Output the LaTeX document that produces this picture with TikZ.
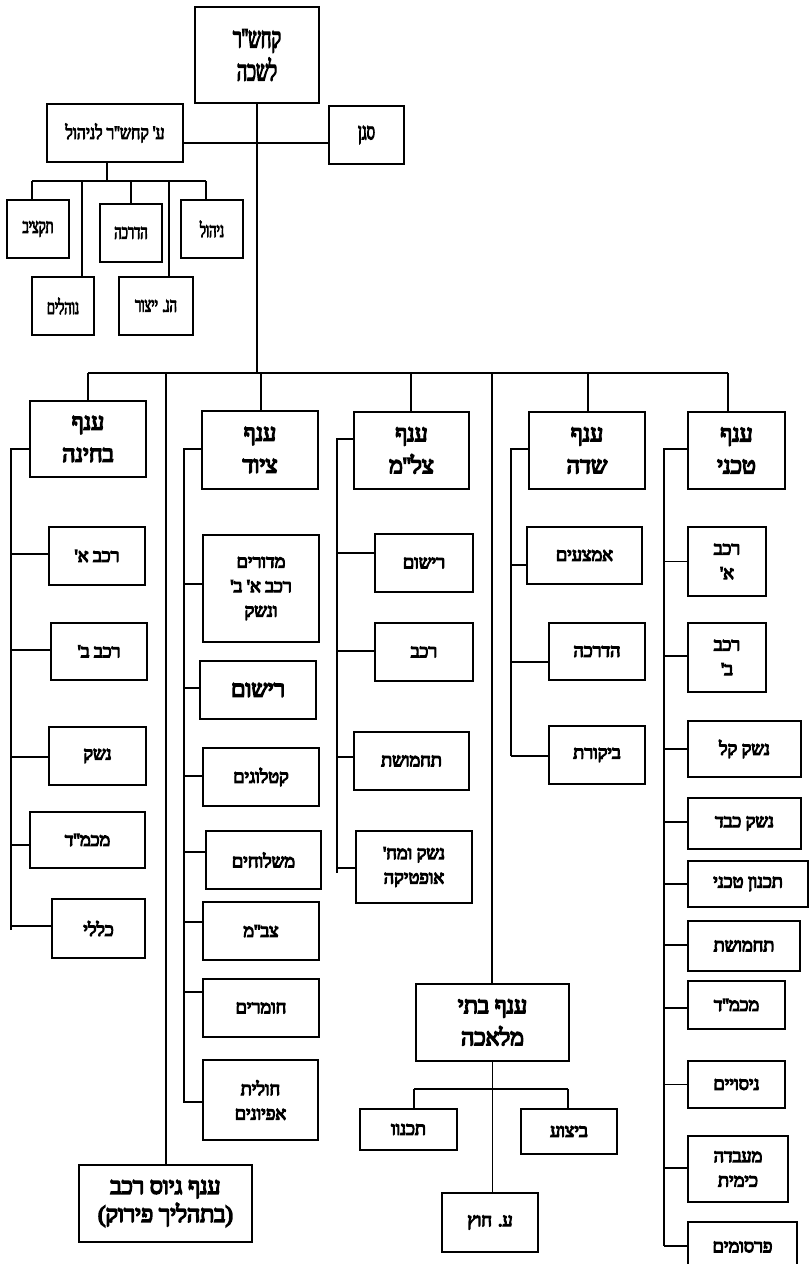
\documentclass[tikz,border=0pt]{standalone}
\usepackage{fontspec}
\TeXXeTstate=1
\newfontfamily\hebfont[Script=Hebrew,FakeBold=6.5]{Liberation Serif}
\newfontfamily\hebcondfont[Script=Hebrew,FakeBold=4,FakeStretch=0.64]{Liberation Serif}
\newfontfamily\hebmgmtfont[Script=Hebrew,FakeBold=4.5,FakeStretch=0.83]{Liberation Serif}
\newcommand\rl[1]{\beginR#1\endR}
\newcommand\smallheb{\hebfont\fontsize{18}{24.5}\selectfont}
\newcommand\headheb{\hebfont\fontsize{23}{32}\selectfont}
\newcommand\mgmtheb{\hebmgmtfont\fontsize{19}{24}\selectfont}
\newcommand\topheb{\hebcondfont\fontsize{28}{33}\selectfont}
\newcommand\sganheb{\hebcondfont\fontsize{23}{28}\selectfont}
\newcommand\narrowheb{\hebcondfont\fontsize{20}{22}\selectfont}
\begin{document}
\begin{tikzpicture}[x=1pt,y=-1pt,line width=1.1pt,
  every node/.style={draw,line width=1.1pt,inner sep=0pt,align=center,font=\smallheb},
  sz/.style 2 args={minimum width=#1pt,minimum height=#2pt},
  headbox/.style={font=\headheb},
  narrowbox/.style={font=\narrowheb}]
\useasboundingbox (0,0) rectangle (809,1264);
% top of the chart
\node[sz={124}{96},font=\topheb] (lishka) at (257,55) {\rl{קחש''ר}\\\rl{לשכה}};
\node[sz={136}{58},font=\mgmtheb] (mgmt) at (115,133) {\rl{ע' קחש''ר לניהול}};
\node[sz={75}{58},font=\sganheb] (sgan) at (366.5,135) {\rl{סגן}};
\node[sz={62}{58},narrowbox] (taktziv) at (38,229) {\rl{תקציב}};
\node[sz={62}{58},narrowbox] (nohalim) at (63,306) {\rl{נוהלים}};
\node[sz={62}{58},narrowbox] (hadr) at (131,233) {\rl{הדרכה}};
\node[sz={74}{58},narrowbox] (yitzur) at (156,306) {\rl{הנ. ייצור}};
\node[sz={62}{58},narrowbox] (nihul) at (212,229) {\rl{ניהול}};
% branches
\node[sz={116}{76},headbox] (bhina) at (88,439) {\rl{ענף}\\\rl{בחינה}};
\node[sz={116}{78},headbox] (tsiyud) at (260,450) {\rl{ענף}\\\rl{ציוד}};
\node[sz={115}{77},headbox] (tslm) at (411.5,450.5) {\rl{ענף}\\\rl{צל''מ}};
\node[sz={116}{77},headbox] (sade) at (587,450.5) {\rl{ענף}\\\rl{שדה}};
\node[sz={97}{77},headbox] (techni) at (736.5,450.5) {\rl{ענף}\\\rl{טכני}};
\node[sz={173}{77},headbox] (giyus) at (165.5,1203.5) {\rl{ענף גיוס רכב}\\[-4pt]\rl{(בתהליך פירוק)}};
\node[sz={153}{77},headbox] (batei) at (492.5,1022.5) {\rl{ענף בתי}\\\rl{מלאכה}};
% ענף בחינה
\node[sz={96}{58}] (b1) at (97,556) {\rl{רכב א'}};
\node[sz={96}{57}] (b2) at (99,651.5) {\rl{רכב ב'}};
\node[sz={97}{58}] (b3) at (97.5,756) {\rl{נשק}};
\node[sz={115}{56}] (b4) at (87.5,840) {\rl{מכמ''ד}};
\node[sz={93}{59}] (b5) at (98.5,928.5) {\rl{כללי}};
% ענף ציוד
\node[sz={116}{107}] (t1) at (261,588.5) {\rl{מדורים}\\\rl{רכב א' ב'}\\\rl{ונשק}};
\node[sz={116}{58},font=\headheb] (t2) at (258,690) {\rl{רישום}};
\node[sz={116}{58}] (t3) at (261,777) {\rl{קטלוגים}};
\node[sz={115}{58}] (t4) at (263.5,860) {\rl{משלוחים}};
\node[sz={116}{58}] (t5) at (261,931) {\rl{צב''מ}};
\node[sz={116}{58}] (t6) at (261,1008) {\rl{חומרים}};
\node[sz={115}{80}] (t7) at (260.5,1100) {\rl{חולית}\\\rl{אפיונים}};
% ענף צל"מ
\node[sz={98}{58}] (z1) at (424,563) {\rl{רישום}};
\node[sz={98}{58}] (z2) at (424,652) {\rl{רכב}};
\node[sz={115}{58}] (z3) at (411.5,761) {\rl{תחמושת}};
\node[sz={116}{72}] (z4) at (414,867) {\rl{נשק ומח'}\\\rl{אופטיקה}};
% ענף שדה
\node[sz={115}{57}] (s1) at (584.5,555.5) {\rl{אמצעים}};
\node[sz={96}{57}] (s2) at (597,651.5) {\rl{הדרכה}};
\node[sz={96}{58}] (s3) at (597,755) {\rl{ביקורת}};
% ענף טכני
\node[sz={78}{69}] (k1) at (727,561.5) {\rl{רכב}\\\rl{א'}};
\node[sz={78}{69}] (k2) at (727,657.5) {\rl{רכב}\\\rl{ב'}};
\node[sz={113}{56}] (k3) at (744.5,749) {\rl{נשק קל}};
\node[sz={113}{51}] (k4) at (744.5,823.5) {\rl{נשק כבד}};
\node[sz={120}{46}] (k5) at (748,884) {\rl{תכנון טכני}};
\node[sz={112}{50}] (k6) at (744,946) {\rl{תחמושת}};
\node[sz={97}{48}] (k7) at (736.5,1005) {\rl{מכמ''ד}};
\node[sz={97}{47}] (k8) at (736.5,1084.5) {\rl{ניסויים}};
\node[sz={100}{66}] (k9) at (738,1169) {\rl{מעבדה}\\\rl{כימית}};
\node[sz={109}{50}] (k10) at (742.5,1247) {\rl{פרסומים}};
% ענף בתי מלאכה
\node[sz={97}{41}] (tichnun) at (408.5,1129.5) {\rl{תכנוו}};
\node[sz={96}{45}] (bitzua) at (569,1131.5) {\rl{ביצוע}};
\node[sz={96}{59}] (chutz) at (490,1222.5) {\rl{ע. חוץ}};

% connectors at the top
\coordinate (barL) at (88,373);
\coordinate (barR) at (728,373);
\draw (lishka.south) -- (lishka.south |- barL);
\draw ([yshift=-10pt]mgmt.east) -- ([yshift=-10pt]mgmt.east -| sgan.west);
\coordinate (mgL) at (32,181);
\coordinate (mgR) at (206,181);
\draw ([xshift=-8pt]mgmt.south) -- ([xshift=-8pt]mgmt.south |- mgL);
\draw (mgL) -- (mgR);
\foreach \n/\x in {taktziv/32,nohalim/82,hadr/131,yitzur/169,nihul/206}{
  \coordinate (d\n) at (\x,181);
  \draw (d\n) -- (d\n |- \n.north);
}
% main bar
\draw (barL) -- (barR);
\foreach \n/\x in {bhina/88,giyus/166,tsiyud/261,tslm/411,batei/492,sade/588,techni/728}{
  \coordinate (m\n) at (\x,373);
  \draw (m\n) -- (m\n |- \n.north);
}
% rails on the left of each branch
\foreach \b/\x/\t/\e in {bhina/11/449/930,tsiyud/184/449/1103,tslm/337/439/873,sade/511/449/756,techni/664/449/1246}{
  \coordinate (r\b) at (\x,\t);
  \coordinate (e\b) at (\x,\e);
  \draw (\b.west |- r\b) -- (r\b) -- (e\b);
}
\foreach \c/\d in {b1/2,b2/1.5,b3/-1,b4/-5,b5/2.5}
  \draw ([yshift=\d pt]\c.west) -- ([yshift=\d pt]\c.west -| rbhina);
\foreach \c/\d in {t1/4.5,t2/2,t3/1,t4/8,t5/9,t6/16,t7/-2}
  \draw ([yshift=\d pt]\c.west) -- ([yshift=\d pt]\c.west -| rtsiyud);
\foreach \c/\d in {z1/10,z2/1,z3/4,z4/-1}
  \draw ([yshift=\d pt]\c.west) -- ([yshift=\d pt]\c.west -| rtslm);
\foreach \c/\d in {s1/-9.5,s2/-10.5,s3/-1}
  \draw ([yshift=\d pt]\c.west) -- ([yshift=\d pt]\c.west -| rsade);
\foreach \c/\d in {k1/0,k2/1.5,k3/0,k4/1.5,k5/0,k6/1,k7/-3,k8/0,k9/1,k10/1}
  \draw ([yshift=\d pt]\c.west) -- ([yshift=\d pt]\c.west -| rtechni);
% workshops
\coordinate (bb1) at (414,1089);
\coordinate (bb2) at (568,1089);
\draw (batei.south) -- (batei.south |- chutz.north);
\draw (bb1) -- (bb2);
\draw (bb1) -- (bb1 |- tichnun.north);
\draw (bb2) -- (bb2 |- bitzua.north);
\end{tikzpicture}
\end{document}
